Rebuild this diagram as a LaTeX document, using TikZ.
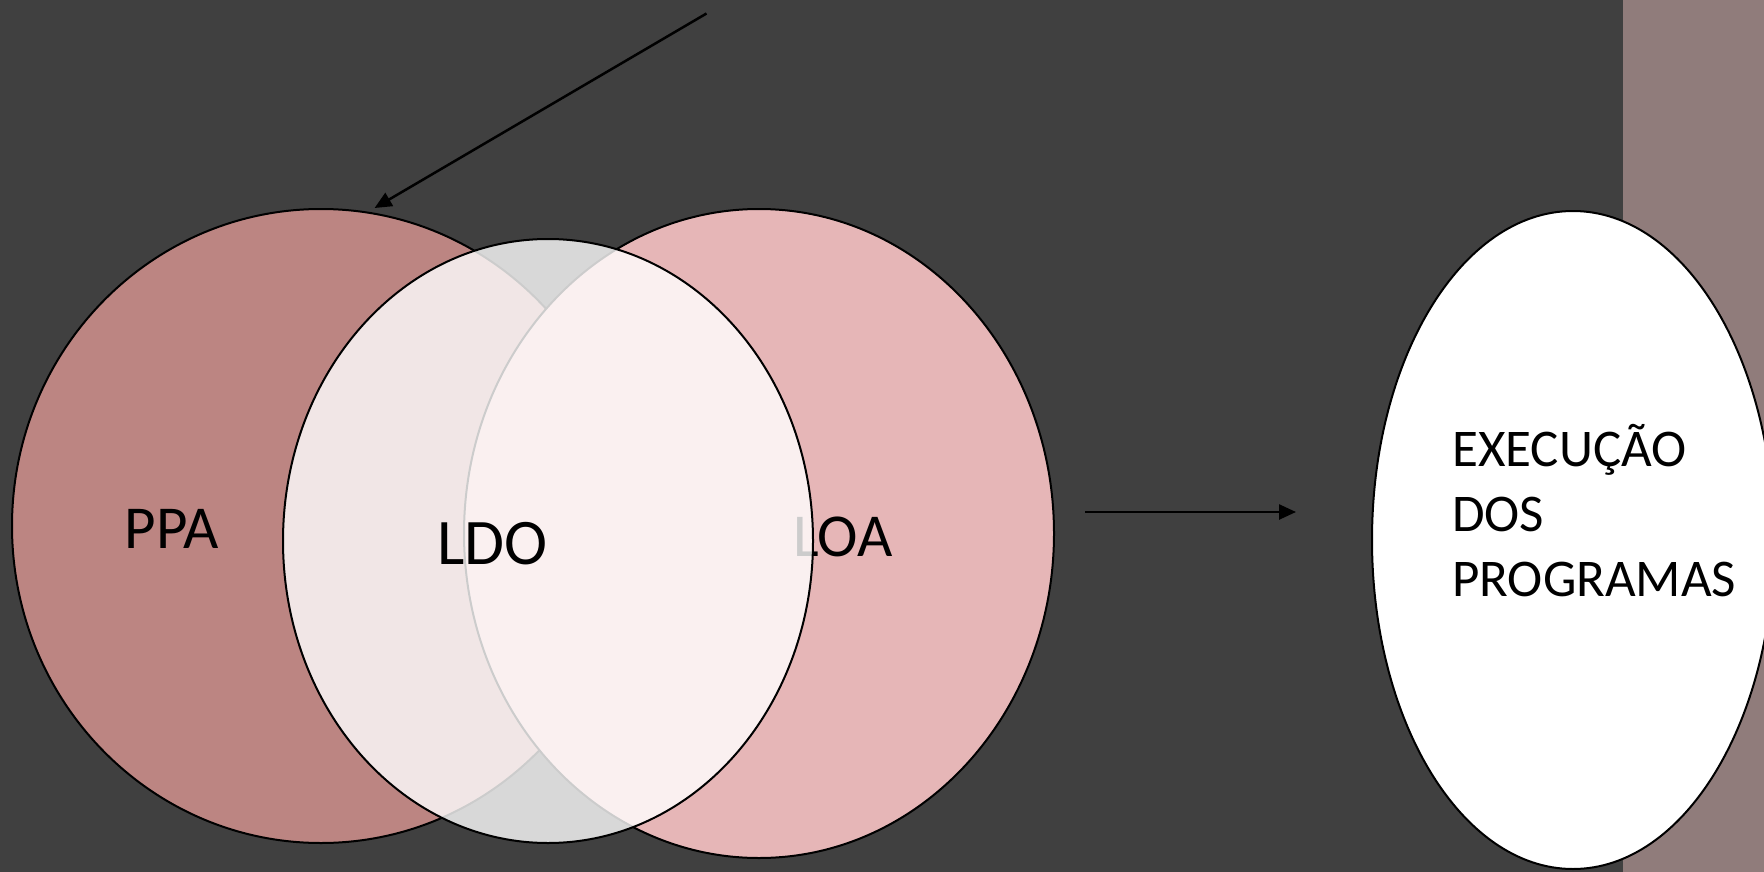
\documentclass[tikz,border=0pt]{standalone}
\usepackage{fontspec}
\setmainfont{Carlito}
\usetikzlibrary{arrows.meta,shapes.geometric}
\definecolor{bgdark}{HTML}{404040}
\definecolor{stripecol}{HTML}{907C7B}
\definecolor{ppacol}{HTML}{BC8582}
\definecolor{loacol}{HTML}{E6B6B7}
\tikzset{
  circ/.style={ellipse, draw=black, line width=2pt, inner sep=0pt},
  bigtext/.style={font=\fontsize{61}{73}\selectfont, text=black, inner sep=0pt, anchor=base},
  ldotext/.style={font=\fontsize{65}{78}\selectfont, text=black, inner sep=0pt, anchor=base},
  extext/.style={font=\fontsize{53}{64}\selectfont, text=black, inner sep=0pt, anchor=base west},
  conn/.style={draw=black, line width=2.5pt, -{Triangle[length=17pt,width=15pt]}}
}
\begin{document}
\begin{tikzpicture}[x=1pt,y=-1pt]
  \useasboundingbox (0,0) rectangle (1764,872);
  \fill[bgdark] (0,0) rectangle (1764,872);
  \fill[stripecol] (1623,0) rectangle (1764,872);
  % PPA and LOA
  \node[circ, fill=ppacol, minimum width=618pt, minimum height=634pt] (ppa) at (321,526) {};
  \node[circ, fill=loacol, minimum width=590pt, minimum height=649pt] (loa) at (759,533.5) {};
  \node[bigtext] (ppat) at (171.5,548) {PPA};
  \node[bigtext] (loat) at (843,556) {LOA};
  % LDO translucent
  \node[ellipse, fill=white, fill opacity=0.8, inner sep=0pt, minimum width=530pt, minimum height=604pt] (ldofill) at (548,541) {};
  \node[circ, minimum width=530pt, minimum height=604pt] (ldo) at (548,541) {};
  \node[ldotext] (ldot) at (492.5,564) {LDO};
  % Execution ellipse
  \node[circ, fill=white, minimum width=402pt, minimum height=658pt] (exe) at (1573,540) {};
  \node[extext] (ex1) at (1452,466) {EXECUÇÃO};
  \node[extext] (ex2) at (1452,531) {DOS};
  \node[extext] (ex3) at (1452,596) {PROGRAMAS};
  % arrows
  \coordinate (a1s) at (706.5,13.5);
  \coordinate (a1e) at (374.6,208);
  \draw[conn] (a1s) -- (a1e);
  \coordinate (a2s) at (1085,512);
  \coordinate (a2e) at (1296,512);
  \draw[conn] (a2s) -- (a2e);
\end{tikzpicture}
\end{document}
